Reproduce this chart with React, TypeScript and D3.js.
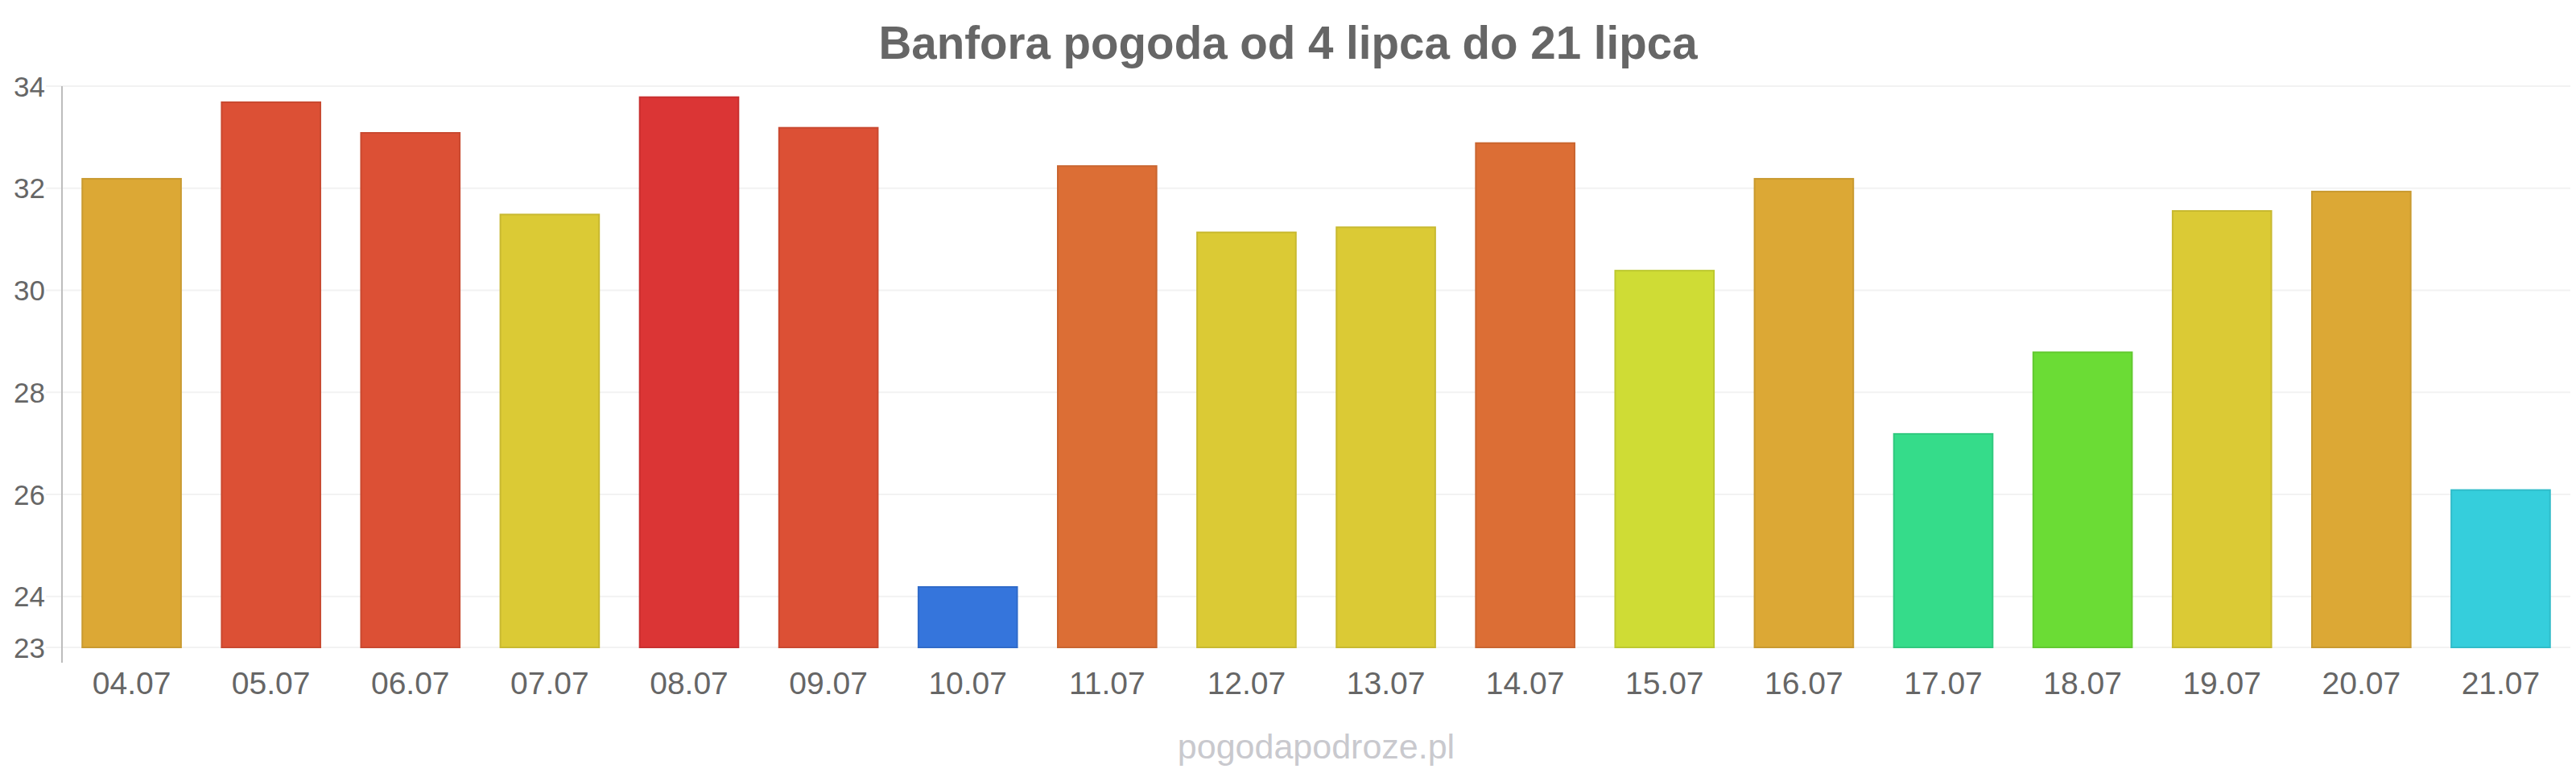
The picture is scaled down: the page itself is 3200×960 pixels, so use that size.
import React, { useEffect, useRef } from 'react';
import * as d3 from 'd3';

const days = ['04.07', '05.07', '06.07', '07.07', '08.07', '09.07', '10.07', '11.07', '12.07',
  '13.07', '14.07', '15.07', '16.07', '17.07', '18.07', '19.07', '20.07', '21.07'];
const temps = [32.2, 33.7, 33.1, 31.5, 33.8, 33.2, 24.2, 32.45, 31.15, 31.25, 32.9, 30.4, 32.2, 27.2, 28.8, 31.57, 31.95, 26.1];
const barColors = ['#dca835', '#dc5035', '#dc5035', '#dbca35', '#db3535', '#dc5035', '#3575dc', '#dc6e35', '#dbca35',
  '#dbca35', '#dc6e35', '#cfdc35', '#dca835', '#35dc8a', '#6bdc35', '#dbca35', '#dca835', '#35cedc'];
const yTicks = [23, 24, 26, 28, 30, 32, 34];

const title = 'Banfora pogoda od 4 lipca do 21 lipca';
const watermark = 'pogodapodroze.pl';

const App: React.FC = () => {
  const svgRef = useRef<SVGSVGElement>(null);
  const width = 3200;
  const height = 960;

  useEffect(() => {
    if (!svgRef.current) return;
    const svg = d3.select(svgRef.current);
    svg.selectAll('*').remove();

    const left = 77;
    const right = 3193;
    const top = 107;
    const bottom = 804;
    const font = '"Liberation Sans", Arial, sans-serif';

    const x = d3.scaleBand()
      .domain(days)
      .range([left, right])
      .paddingInner(0.28)
      .paddingOuter(0.14);

    const y = d3.scaleLinear()
      .domain([23, 34])
      .range([bottom, top]);

    // grid lines
    svg.append('g')
      .selectAll('line')
      .data(yTicks)
      .enter().append('line')
      .attr('x1', 57)
      .attr('x2', right)
      .attr('y1', d => y(d))
      .attr('y2', d => y(d))
      .attr('stroke', '#f2f2f2')
      .attr('stroke-width', 2);

    // y axis line
    svg.append('line')
      .attr('x1', left)
      .attr('x2', left)
      .attr('y1', top)
      .attr('y2', 823)
      .attr('stroke', '#bdbdbd')
      .attr('stroke-width', 2);

    // y tick labels
    svg.append('g')
      .selectAll('text')
      .data(yTicks)
      .enter().append('text')
      .attr('x', 56)
      .attr('y', d => y(d))
      .attr('dy', '0.36em')
      .attr('text-anchor', 'end')
      .style('font-family', font)
      .style('font-size', '35px')
      .style('fill', '#666')
      .text(d => d);

    // bars
    svg.append('g')
      .selectAll('rect')
      .data(temps)
      .enter().append('rect')
      .attr('x', (d, i) => (x(days[i]) || 0) + 1)
      .attr('width', x.bandwidth() - 2)
      .attr('y', d => y(d) + 1)
      .attr('height', d => bottom - y(d) - 1)
      .attr('fill', (d, i) => barColors[i])
      .attr('stroke', (d, i) => d3.color(barColors[i])!.darker(0.25).toString())
      .attr('stroke-width', 2);

    // x labels
    svg.append('g')
      .selectAll('text')
      .data(days)
      .enter().append('text')
      .attr('x', d => (x(d) || 0) + x.bandwidth() / 2)
      .attr('y', 862)
      .attr('text-anchor', 'middle')
      .style('font-family', font)
      .style('font-size', '39px')
      .style('fill', '#666')
      .text(d => d);

    // title
    svg.append('text')
      .attr('x', width / 2)
      .attr('y', 73)
      .attr('text-anchor', 'middle')
      .style('font-family', font)
      .style('font-size', '56.5px')
      .style('font-weight', 'bold')
      .style('fill', '#666')
      .text(title);

    // watermark
    svg.append('text')
      .attr('x', (left + right) / 2)
      .attr('y', 942)
      .attr('text-anchor', 'middle')
      .style('font-family', font)
      .style('font-size', '43px')
      .style('fill', '#c9c9ce')
      .text(watermark);
  }, []);

  return (
    <div style={{ position: 'absolute', left: 0, top: 0, width, height, background: 'white' }}>
      <svg ref={svgRef} width={width} height={height} style={{ display: 'block' }}></svg>
    </div>
  );
};

export default App;
